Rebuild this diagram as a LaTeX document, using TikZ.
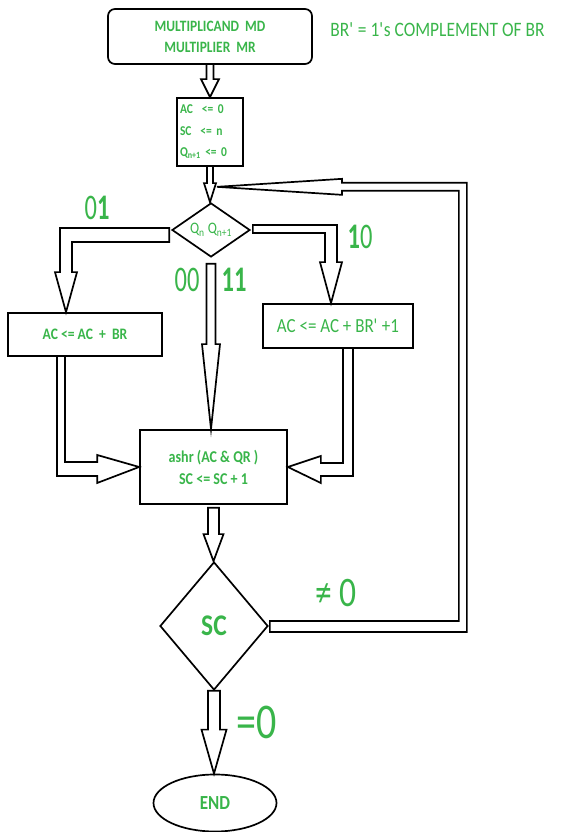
\documentclass[tikz,border=0pt]{standalone}
\usepackage{fontspec}
\setmainfont{Carlito}[FakeStretch=0.85]
\newfontfamily\labfont{Carlito}[FakeStretch=0.68]
\newfontfamily\eqfont{Carlito}[FakeStretch=0.8]
\usetikzlibrary{shapes.geometric,calc}
\definecolor{fgreen}{RGB}{57,181,74}
\tikzset{
  box/.style={draw=black, line width=1.7pt, rectangle, inner sep=0pt},
  dia/.style={draw=black, line width=1.7pt, diamond, inner sep=0pt},
  blk/.style={draw=black, line width=1.7pt, line join=miter},
  gtxt/.style={text=fgreen},
  lab/.style={text=fgreen, inner sep=0pt, font=\labfont\fontsize{36}{36}\selectfont},
}
\newcommand\vblk[6]{%
  \draw[blk] let \p1=#1, \p2=#2 in (\x1-#3,\y1-#6) -- (\x1-#3,\y2+#5) -- (\x1-#4,\y2+#5) -- (\x1,\y2)
    -- (\x1+#4,\y2+#5) -- (\x1+#3,\y2+#5) -- (\x1+#3,\y1-#6)}
\begin{document}
\begin{tikzpicture}[x=1pt,y=1pt]
\useasboundingbox (0,0) rectangle (577,832);
% nodes
\node[box, rounded corners=7pt, minimum width=204pt, minimum height=55pt, align=center, gtxt,
      font=\fontsize{15.8}{21}\selectfont\bfseries] (top) at (210,795.5) {MULTIPLICAND\ \ MD\\MULTIPLIER\ \ MR};
\node[gtxt, font=\fontsize{20.5}{24}\selectfont, inner sep=0pt] (note) at (437.5,802) {BR\textquotesingle{} = 1\textquotesingle s COMPLEMENT OF BR};
\node[box, minimum width=66pt, minimum height=68pt, text width=60pt, align=left, gtxt,
      font=\fontsize{13.5}{21.5}\selectfont\bfseries] (init) at (210,700) {AC\ \ <= 0\\SC\ \ <= n\\Q\textsubscript{n+1} <= 0};
\node[dia, aspect=1.44, minimum width=78pt, minimum height=54pt, gtxt,
      font=\fontsize{16}{18}\selectfont] (d1) at (211,602) {Q\textsubscript{n} Q\textsubscript{n+1}};
\node[box, minimum width=154pt, minimum height=43pt, gtxt, font=\fontsize{16}{20}\selectfont\bfseries]
      (lbox) at (85,497.5) {AC <= AC\ \ +\ \ BR};
\node[box, minimum width=150pt, minimum height=44pt, gtxt, font=\fontsize{20}{24}\selectfont]
      (rbox) at (338,506) {AC <= AC + BR\textquotesingle{} +1};
\node[box, minimum width=147pt, minimum height=74pt, align=center, gtxt, font=\fontsize{16.5}{22}\selectfont\bfseries]
      (cbox) at (213.5,365) {ashr (AC \& QR )\\SC <= SC + 1};
\node[dia, aspect=0.84, minimum width=108pt, minimum height=128pt, gtxt, font=\fontsize{30}{32}\selectfont\bfseries]
      (sc) at (214,206) {SC};
\node[draw=black, line width=1.7pt, ellipse, inner sep=0pt, minimum width=123pt, minimum height=57pt, gtxt,
      font=\fontsize{20}{24}\selectfont\bfseries] (endn) at (215,29) {END};
\coordinate (loopin) at ($(init.south)+(7,-20)$);
% labels
\node[lab] (l01) at (97,624) {0\textbf{1}};
\node[lab] (l10) at (360,595) {\textbf{1}0};
\node[lab] (l00) at (187,552) {00};
\node[lab] (l11) at (234,552) {\textbf{11}};
\node[lab, font=\eqfont\fontsize{42}{42}\selectfont] (lne) at (336,239) {≠\,0};
\node[lab, font=\eqfont\fontsize{50}{50}\selectfont] (leq) at (257,110) {=0};
% straight block arrows
\vblk{(top.south)}{(init.north)}{3.5pt}{9pt}{18pt}{0pt};
\vblk{(init.south)}{(d1.north)}{3pt}{6pt}{19pt}{0pt};
\vblk{(d1.south)}{(cbox.north)}{4.5pt}{9pt}{85pt}{6pt} -- cycle;
\vblk{(cbox.south)}{(sc.north)}{5.5pt}{10pt}{27pt}{3pt} -- cycle;
\vblk{(sc.south)}{(endn.north)}{6pt}{12.5pt}{44pt}{0pt} -- cycle;
% bent block arrows
\draw[blk] let \p1=(d1.west), \p2=(lbox.north) in
  (\x1-2pt,\y1+2pt) -- (\x2-25pt,\y1+2pt) -- (\x2-25pt,\y2+40pt) -- (\x2-30pt,\y2+40pt) -- (\x2-19pt,\y2)
  -- (\x2-8pt,\y2+40pt) -- (\x2-13pt,\y2+40pt) -- (\x2-13pt,\y1-12pt) -- (\x1-2pt,\y1-12pt) -- cycle;
\draw[blk] let \p1=(d1.east), \p2=(rbox.north) in
  (\x1+2pt,\y1+5pt) -- (\x2-1pt,\y1+5pt) -- (\x2-1pt,\y2+41pt) -- (\x2+4pt,\y2+41pt) -- (\x2-7pt,\y2)
  -- (\x2-18pt,\y2+41pt) -- (\x2-13pt,\y2+41pt) -- (\x2-13pt,\y1-3pt) -- (\x1+2pt,\y1-3pt) -- cycle;
\draw[blk] let \p1=(lbox.south), \p2=(cbox.west) in
  (\x1-28pt,\y1) -- (\x1-28pt,\y2-9pt) -- (\x2-42pt,\y2-9pt) -- (\x2-42pt,\y2-16pt) -- (\x2,\y2)
  -- (\x2-42pt,\y2+12pt) -- (\x2-42pt,\y2+5pt) -- (\x1-20pt,\y2+5pt) -- (\x1-20pt,\y1);
\draw[blk] let \p1=(rbox.south), \p2=(cbox.east) in
  (\x1+15pt,\y1) -- (\x1+15pt,\y2-9pt) -- (\x2+33pt,\y2-9pt) -- (\x2+33pt,\y2-16pt) -- (\x2,\y2)
  -- (\x2+33pt,\y2+11pt) -- (\x2+33pt,\y2+4pt) -- (\x1+5pt,\y2+4pt) -- (\x1+5pt,\y1);
\draw[blk] let \p1=(sc.east), \p2=(loopin) in
  (\x1+1pt,\y1+5pt) -- (\x1+190pt,\y1+5pt) -- (\x1+190pt,\y2-4pt) -- (\x2+125pt,\y2-4pt) -- (\x2+125pt,\y2-8pt)
  -- (\x2,\y2) -- (\x2+125pt,\y2+8pt) -- (\x2+125pt,\y2+4pt) -- (\x1+198pt,\y2+4pt) -- (\x1+198pt,\y1-6pt)
  -- (\x1+1pt,\y1-6pt) -- cycle;
\end{tikzpicture}
\end{document}
